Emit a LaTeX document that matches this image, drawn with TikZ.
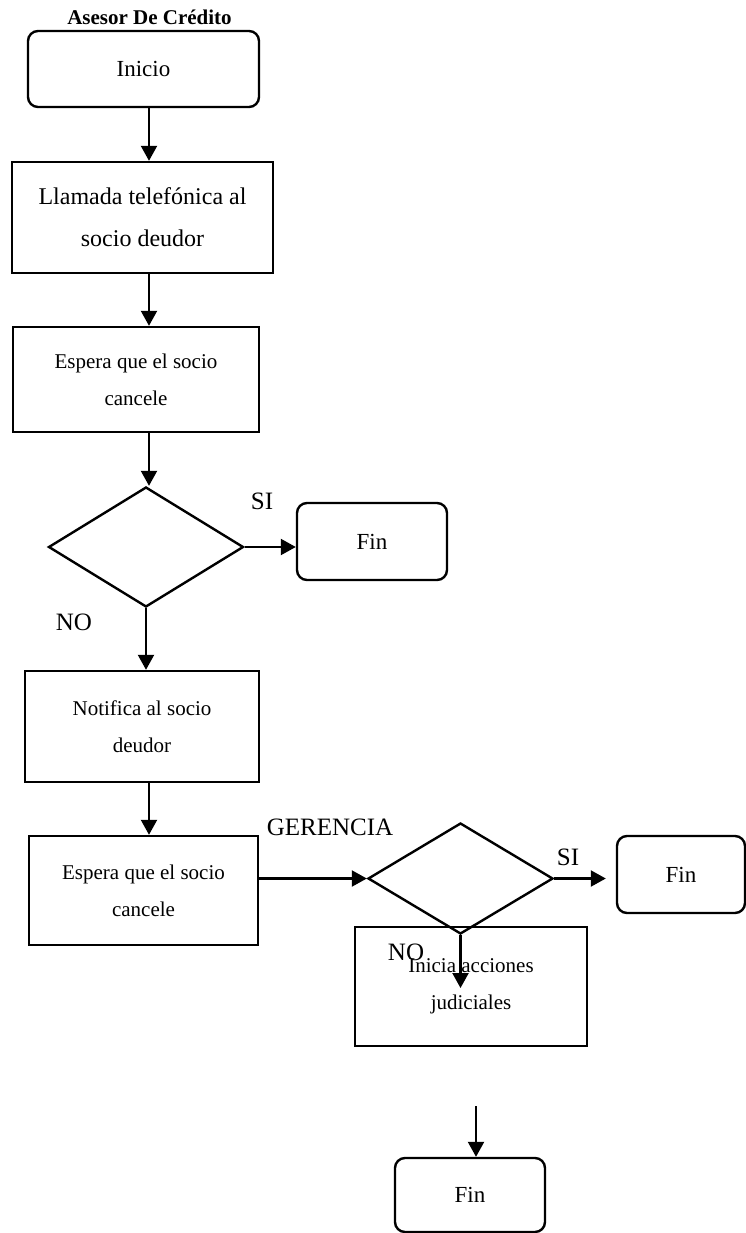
\documentclass[tikz,border=0pt]{standalone}
\usepackage{fontspec}
\setmainfont{Liberation Serif}
\usetikzlibrary{shapes.geometric,arrows.meta}
\tikzset{
  box/.style={draw=black, line width=2.4pt, rectangle, inner sep=0pt, align=center},
  rbox/.style={box, rounded corners=10pt},
  dec/.style={draw=black, line width=2.4pt, diamond, inner sep=0pt},
  arr/.style={line width=2.2pt, -{Triangle[width=16pt,length=15pt]}},
  lbl/.style={inner sep=0pt, font=\fontsize{25}{30}\selectfont},
  txtA/.style={font=\fontsize{21}{37}\selectfont},
  txtB/.style={font=\fontsize{24}{42}\selectfont},
  txtC/.style={font=\fontsize{23}{28}\selectfont}
}
\begin{document}
\begin{tikzpicture}[x=1pt,y=1pt]
\useasboundingbox (0,0) rectangle (745,-1233);
\node[inner sep=0pt, font=\fontsize{21}{25}\selectfont\bfseries] (title) at (149.5,-17) {Asesor De Crédito};
\node[rbox, txtC, minimum width=231pt, minimum height=76pt] (inicio) at (143.5,-69) {Inicio};
\node[box, txtB, minimum width=261pt, minimum height=111pt] (llamada) at (142.5,-217.5) {Llamada telefónica al\\socio deudor};
\node[box, txtA, minimum width=246pt, minimum height=105pt] (espera1) at (136,-379.5) {Espera que el socio\\cancele};
\node[dec, minimum width=195pt, minimum height=120pt] (dec1) at (146,-547) {};
\node[rbox, txtC, minimum width=150pt, minimum height=77pt] (fin1) at (372,-541.5) {Fin};
\node[box, txtA, minimum width=234pt, minimum height=111pt] (notifica) at (142,-726.5) {Notifica al socio\\deudor};
\node[box, txtA, minimum width=229pt, minimum height=109pt] (espera2) at (143.5,-890.5) {Espera que el socio\\cancele};
\node[dec, minimum width=185pt, minimum height=111pt] (dec2) at (460.5,-878.5) {};
\node[rbox, txtC, minimum width=128pt, minimum height=77pt] (fin2) at (681,-874.5) {Fin};
\node[box, txtA, minimum width=232pt, minimum height=119pt] (inicia) at (471,-986.5) {Inicia acciones\\judiciales};
\node[rbox, txtC, minimum width=150pt, minimum height=74pt] (fin3) at (470,-1195) {Fin};

\node[lbl] (si1) at (262,-501) {SI};
\node[lbl] (no1) at (74,-622) {NO};
\node[lbl] (ger) at (330,-827) {GERENCIA};
\node[lbl] (si2) at (568,-857) {SI};
\node[lbl] (no2) at (406,-952) {NO};

\coordinate (colA) at (149,0);
\coordinate (tipNo2) at (460.5,-988);
\coordinate (topFin3) at (476,-1106);

\draw[arr] (inicio.south -| colA) -- (llamada.north -| colA);
\draw[arr] (llamada.south -| colA) -- (espera1.north -| colA);
\draw[arr] (espera1.south -| colA) -- (dec1.north -| colA);
\draw[arr] (dec1.east) -- (dec1.east -| fin1.west);
\draw[arr] (dec1.south) -- (dec1.south |- notifica.north);
\draw[arr] (notifica.south -| colA) -- (espera2.north -| colA);
\draw[arr] (espera2.east |- dec2.west) -- (dec2.west);
\draw[arr, shorten >=10pt] (dec2.east) -- (dec2.east -| fin2.west);
\draw[arr] (dec2.south) -- (tipNo2);
\draw[arr] (topFin3) -- (fin3.north -| topFin3);
\end{tikzpicture}
\end{document}
